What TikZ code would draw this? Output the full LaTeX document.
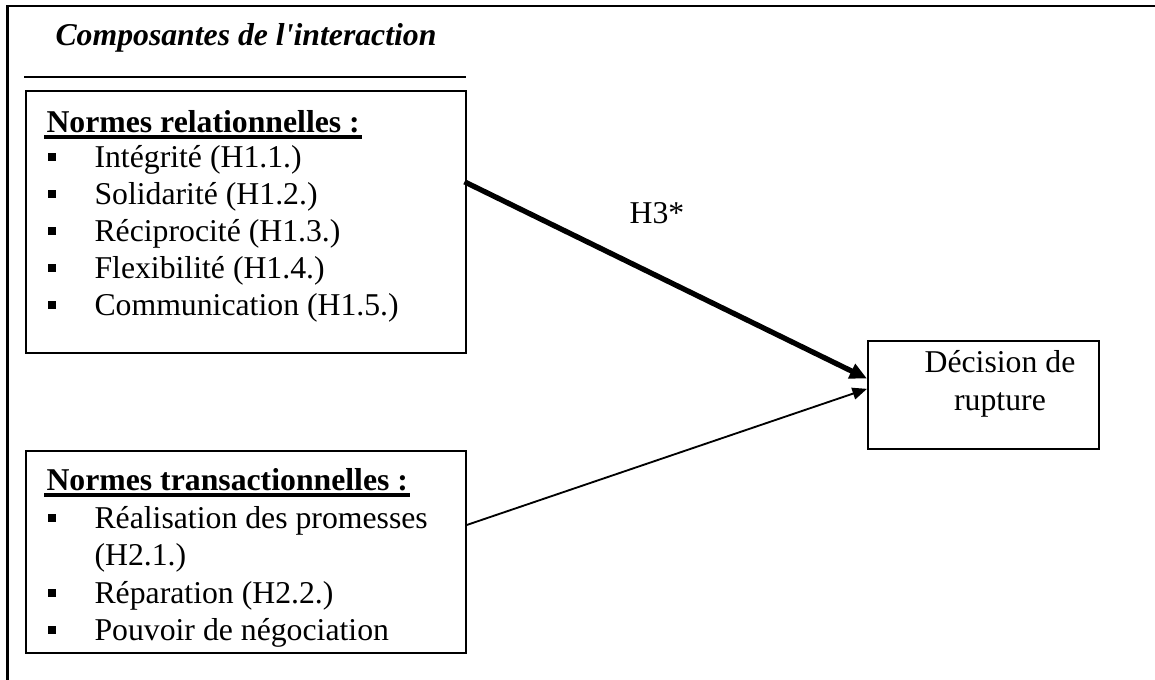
\documentclass[tikz,border=0pt]{standalone}
\usepackage{fontspec}
\setmainfont{Liberation Serif}[Ligatures=TeXOff]
\usetikzlibrary{arrows.meta}

\tikzset{
  boite/.style={draw, line width=0.75pt, inner sep=0pt, anchor=north west},
  puce/.style={fill, minimum size=3.1pt, inner sep=0pt},
  ligne/.style={anchor=base west, inner sep=0pt},
  souligne/.style={line width=1.2pt},
}

\begin{document}
\fontsize{12}{14.4}\selectfont
\begin{tikzpicture}[line cap=rect, x=0.378pt, y=-0.378pt]
\useasboundingbox (0,0) rectangle (1155,679);
% cadre
\draw [line width=0.8pt] (7.5,679) -- (7.5,6) -- (1155,6);
\node [anchor=base, inner sep=0pt, font=\bfseries\itshape] (titre) at (246,45) {Composantes de l'interaction};
\draw [line width=0.75pt] (25,77) -- (465,77);

% boites
\node [boite, minimum width=166.3pt, minimum height=99pt] (rel) at (25,90) {};
\node [boite, minimum width=166.3pt, minimum height=76.4pt] (trans) at (25,450) {};
\node [boite, minimum width=87.3pt, minimum height=40.8pt] (dec) at (867,340) {};

% normes relationnelles
\node [ligne, font=\bfseries] (relTitre) at (46,132) {Normes relationnelles :};
\draw [souligne] ([yshift=-1.9pt]relTitre.base west) -- ([yshift=-1.9pt]relTitre.base east);
\foreach \txt [count=\i] in {Intégrité (H1.1.), Solidarité (H1.2.), Réciprocité (H1.3.), Flexibilité (H1.4.), Communication (H1.5.)}{
  \node [puce] (rp\i) at (52,{120+37*\i}) {};
  \node [ligne] (ri\i) at (94,{130+37*\i}) {\txt};
}

% normes transactionnelles
\node [ligne, font=\bfseries] (transTitre) at (46,490) {Normes transactionnelles :};
\draw [souligne] ([yshift=-1.9pt]transTitre.base west) -- ([yshift=-1.9pt]transTitre.base east);
\node [puce] (tp1) at (52,518) {};
\node [ligne] (ti1) at (94,528) {Réalisation des promesses};
\node [ligne] (ti1b) at (94,565) {(H2.1.)};
\node [puce] (tp2) at (52,593) {};
\node [ligne] (ti2) at (94,603) {Réparation (H2.2.)};
\node [puce] (tp3) at (52,630) {};
\node [ligne] (ti3) at (94,640) {Pouvoir de négociation};

% decision
\node [align=center, inner sep=0pt] (decTexte) at (1000,384) {Décision de\\rupture};

% fleches
\draw [line width=2pt, -{Triangle[length=6.5pt, width=5.8pt]}] (rel.10) -- (dec.172);
\draw [line width=0.7pt, -{Triangle[length=5.5pt, width=4.5pt]}] (trans.7) -- (dec.177);
\node (h3) at (657,213) {H3*};
\end{tikzpicture}
\end{document}
